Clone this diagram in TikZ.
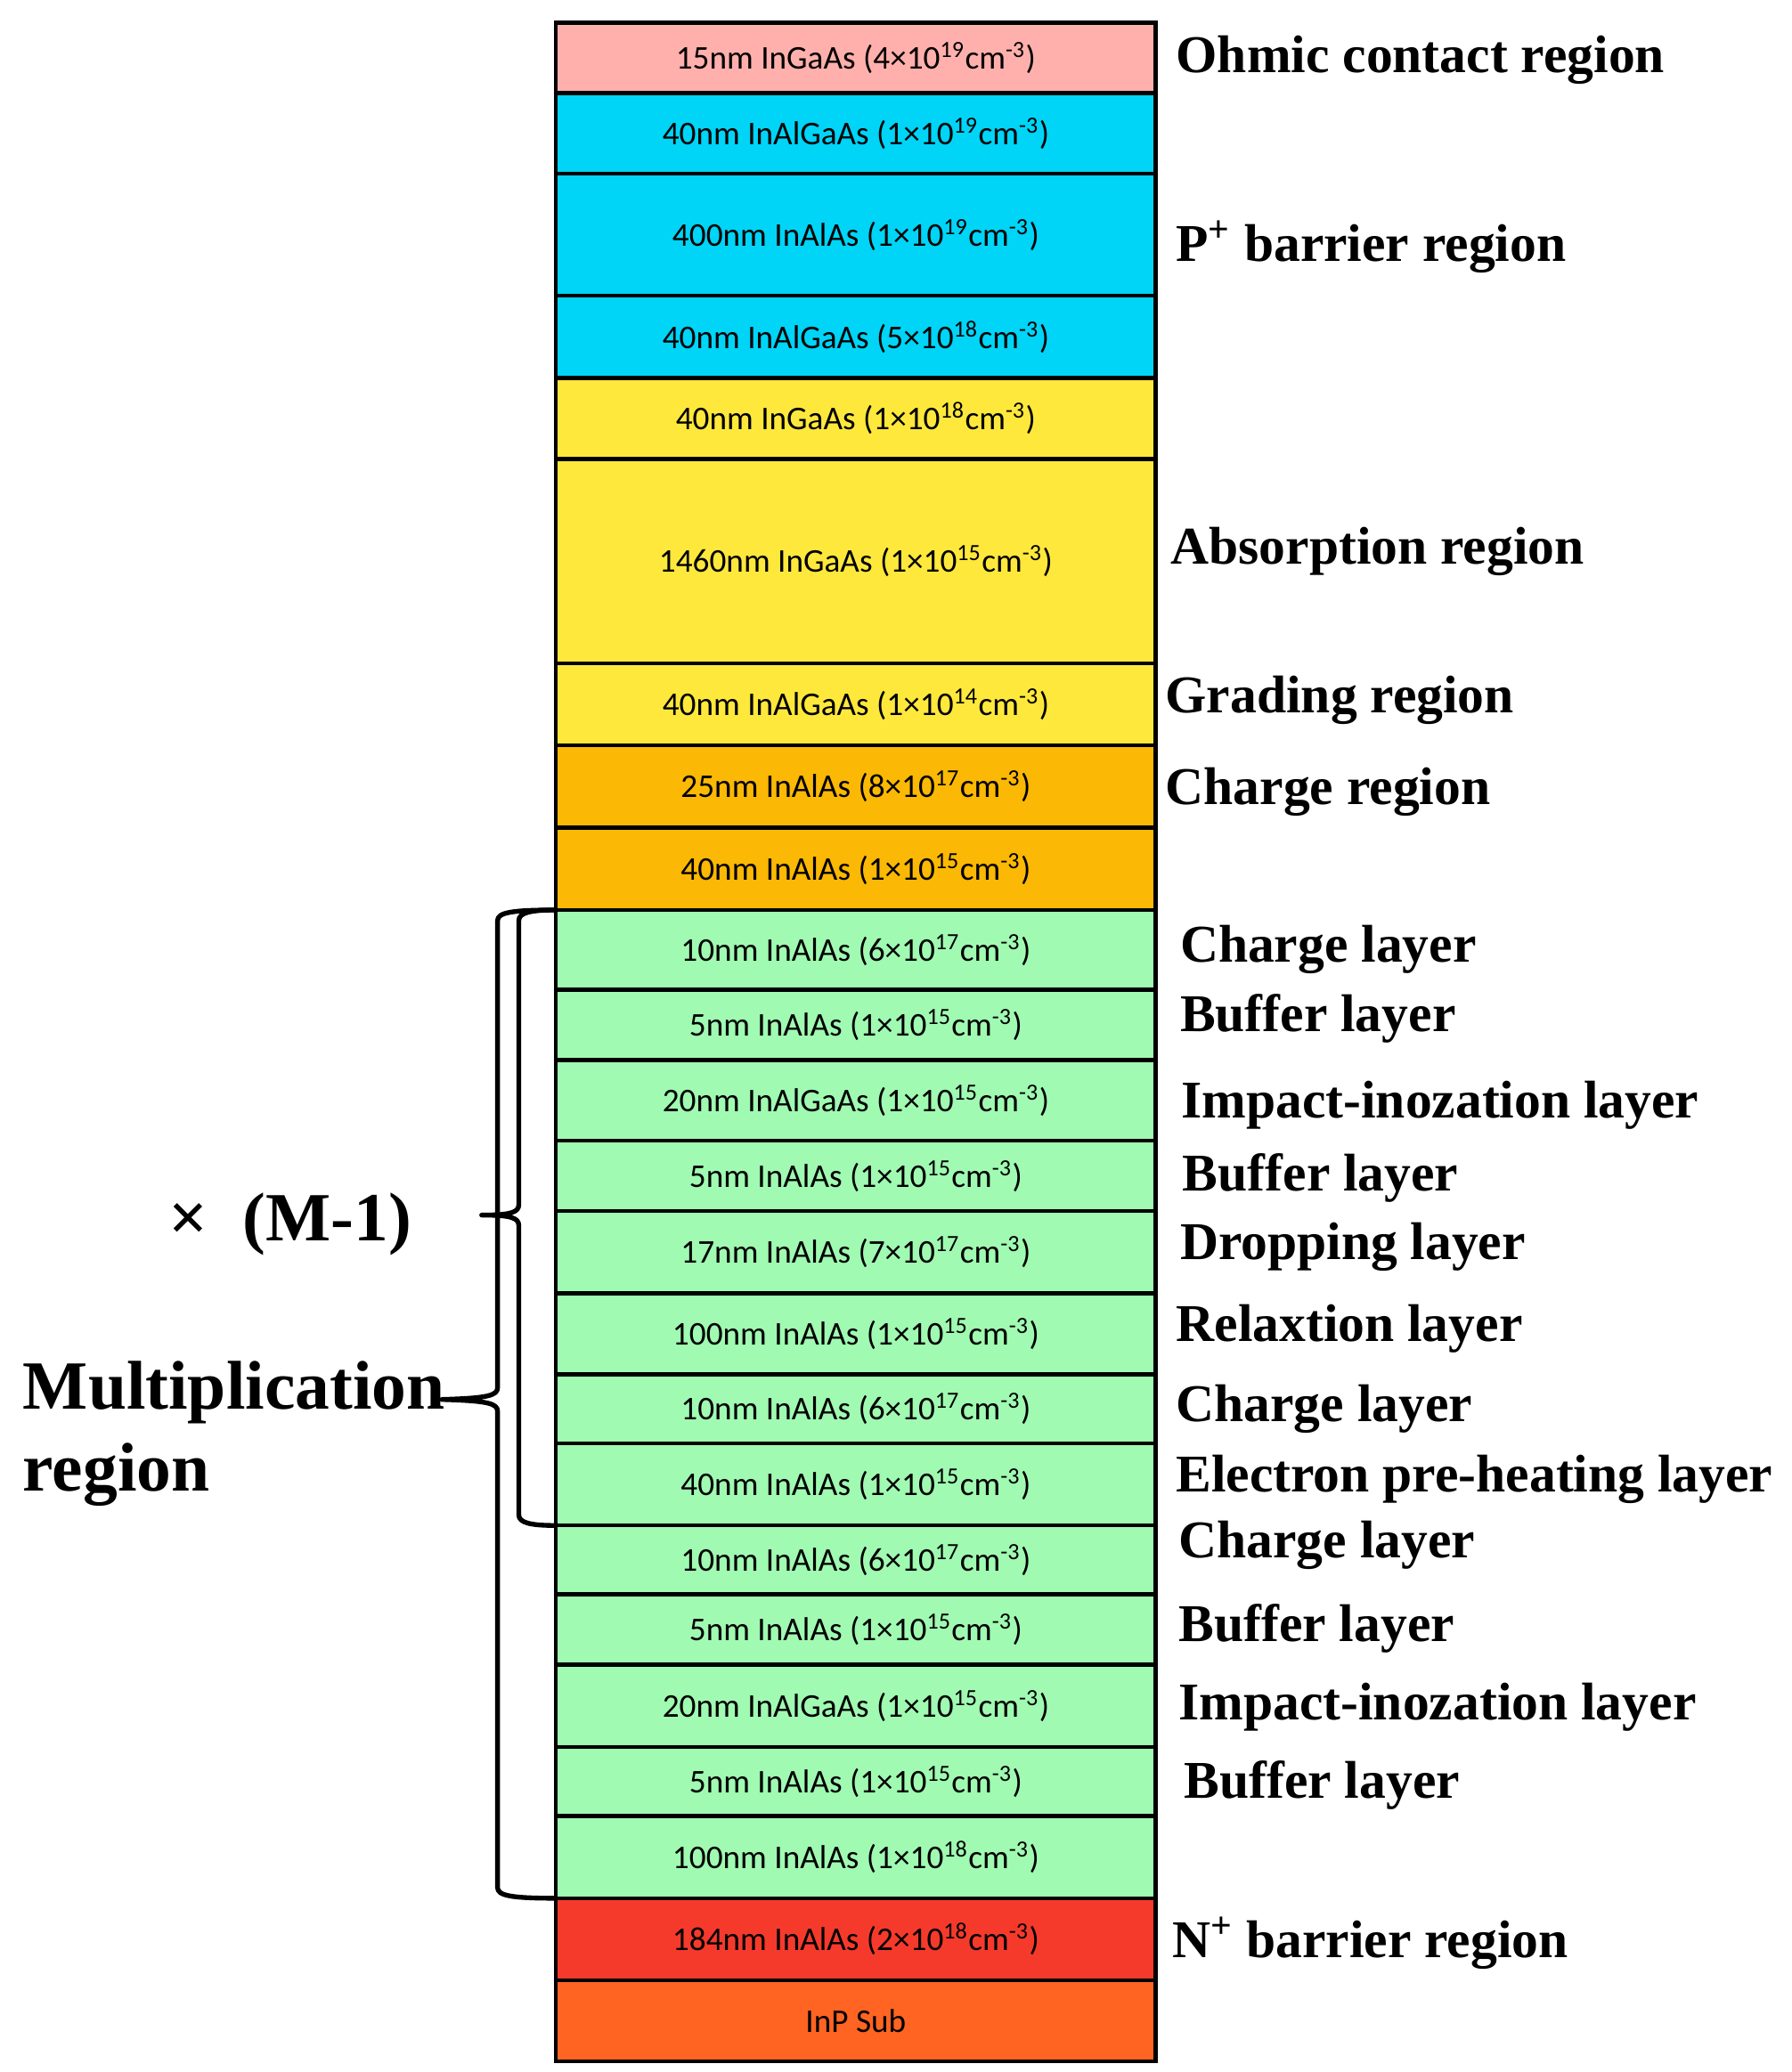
\documentclass[tikz,border=0pt]{standalone}
\usepackage{fontspec}
\setmainfont{Liberation Serif}
\newfontfamily\layerfont{Carlito}
\definecolor{cpink}{HTML}{FFB0AC}
\definecolor{ccyan}{HTML}{00D4F7}
\definecolor{cyel}{HTML}{FFE83C}
\definecolor{corg}{HTML}{FBB804}
\definecolor{cgrn}{HTML}{A0FAB2}
\definecolor{cred}{HTML}{F53A2C}
\definecolor{csub}{HTML}{FF6422}
\newcommand{\dop}[2]{(#1\texttimes10\textsuperscript{#2}cm\textsuperscript{-3})}
\begin{document}
\begin{tikzpicture}[x=0.5pt,y=-0.5pt,
  layer/.style={draw=black,line width=1.5pt,inner sep=0pt,font=\layerfont\fontsize{12.5}{14}\selectfont},
  lbl/.style={anchor=west,inner sep=0pt,font=\bfseries\fontsize{20}{24}\selectfont},
  big/.style={anchor=west,inner sep=0pt,font=\bfseries\fontsize{26}{30}\selectfont},
  brace/.style={line width=1.8pt,line join=round}]
\useasboundingbox (0,0) rectangle (1350,1562);
\def\xl{419}\def\xr{871}
\foreach \n/\ya/\yb/\c/\t in {
 L1/17/70/cpink/{15nm InGaAs \dop{4}{19}},
 L2/70/131/ccyan/{40nm InAlGaAs \dop{1}{19}},
 L3/131/223/ccyan/{400nm InAlAs \dop{1}{19}},
 L4/223/285/ccyan/{40nm InAlGaAs \dop{5}{18}},
 L5/285/346/cyel/{40nm InGaAs \dop{1}{18}},
 L6/346/500/cyel/{1460nm InGaAs \dop{1}{15}},
 L7/500/562/cyel/{40nm InAlGaAs \dop{1}{14}},
 L8/562/624/corg/{25nm InAlAs \dop{8}{17}},
 L9/624/686/corg/{40nm InAlAs \dop{1}{15}},
 L10/686/746/cgrn/{10nm InAlAs \dop{6}{17}},
 L11/746/799/cgrn/{5nm InAlAs \dop{1}{15}},
 L12/799/860/cgrn/{20nm InAlGaAs \dop{1}{15}},
 L13/860/913/cgrn/{5nm InAlAs \dop{1}{15}},
 L14/913/975/cgrn/{17nm InAlAs \dop{7}{17}},
 L15/975/1036/cgrn/{100nm InAlAs \dop{1}{15}},
 L16/1036/1088/cgrn/{10nm InAlAs \dop{6}{17}},
 L17/1088/1150/cgrn/{40nm InAlAs \dop{1}{15}},
 L18/1150/1202/cgrn/{10nm InAlAs \dop{6}{17}},
 L19/1202/1255/cgrn/{5nm InAlAs \dop{1}{15}},
 L20/1255/1317/cgrn/{20nm InAlGaAs \dop{1}{15}},
 L21/1317/1369/cgrn/{5nm InAlAs \dop{1}{15}},
 L22/1369/1431/cgrn/{100nm InAlAs \dop{1}{18}},
 L23/1431/1493/cred/{184nm InAlAs \dop{2}{18}},
 L24/1493/1554/csub/{InP Sub}}{
 \path[layer,fill=\c] (\xl,\ya) rectangle (\xr,\yb);
 \node[inner sep=0pt,font=\layerfont\fontsize{12.5}{14}\selectfont] (\n) at (645,{(\ya+\yb)/2}) {\t};
}
\foreach \n/\x/\y/\t in {
 R1/886/45/{Ohmic contact region},
 R2/886/186/{P\textsuperscript{+} barrier region},
 R3/882/416/{Absorption region},
 R4/878/528/{Grading region},
 R5/878/597/{Charge region},
 R6/889/716/{Charge layer},
 R7/889/768/{Buffer layer},
 R8/890/833/{Impact-inozation layer},
 R9/891/888/{Buffer layer},
 R10/889/940/{Dropping layer},
 R11/886/1002/{Relaxtion layer},
 R12/886/1062/{Charge layer},
 R13/886/1115/{Electron pre-heating layer},
 R14/888/1165/{Charge layer},
 R15/888/1228/{Buffer layer},
 R16/888/1287/{Impact-inozation layer},
 R17/892/1346/{Buffer layer},
 R18/883/1465/{N\textsuperscript{+} barrier region}}{
 \node[lbl] (\n) at (\x,\y) {\t};
}
\node[big] (rep) at (127,923) {\texttimes\ \ (M-1)};
\node[big] (mul) at (17,1050) {Multiplication};
\node[big] (reg) at (17,1112) {region};
% inner brace
\draw[brace] (\xl,686) .. controls (400,686) and (391,688) .. (391,694) -- (391,908)
  .. controls (391,914) and (385,916) .. (363,916)
  .. controls (385,916) and (391,918) .. (391,924) -- (391,1142)
  .. controls (391,1148) and (400,1150) .. (\xl,1150);
% outer brace
\draw[brace] (\xl,686) .. controls (385,686) and (375,688) .. (375,694) -- (375,1046)
  .. controls (375,1052) and (368,1054) .. (333,1055)
  .. controls (368,1056) and (375,1058) .. (375,1064) -- (375,1423)
  .. controls (375,1429) and (385,1431) .. (\xl,1431);
\end{tikzpicture}
\end{document}
